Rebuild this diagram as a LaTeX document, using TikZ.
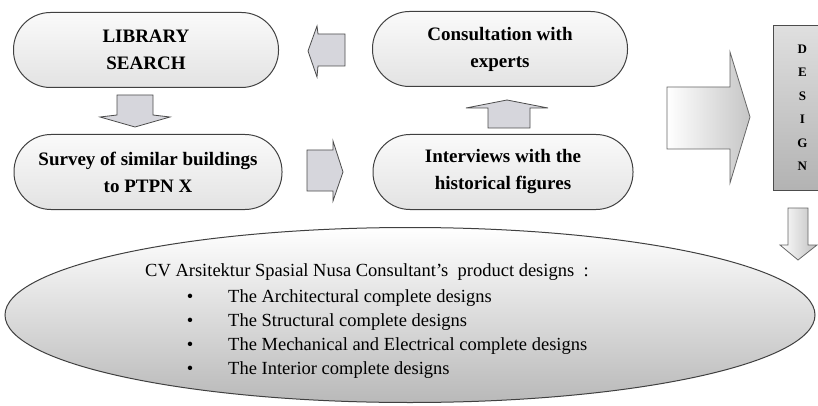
\documentclass[tikz,border=0pt]{standalone}
\usepackage{fontspec}
\setmainfont{Liberation Serif}
\usetikzlibrary{shapes.geometric}
\begin{document}
\begin{tikzpicture}[x=1pt,y=-1pt,
  stadium/.style={draw=black!75,line width=1pt,rounded corners=37pt,minimum width=#1,minimum height=75pt,
    top color=gray!4,bottom color=gray!22,align=center,font=\fontsize{19}{27}\selectfont\bfseries,inner sep=0pt},
  blk/.style={draw=black!70,line width=0.8pt,fill=blue!8!gray!30},
  etext/.style={font=\fontsize{18.5}{24}\selectfont,inner sep=0pt},
]
\useasboundingbox (0,0) rectangle (818,406);
% boxes
\node[stadium=265pt] (lib) at (146,50) {LIBRARY\\SEARCH};
\node[stadium=255pt] (con) at (500,49) {Consultation with\\experts};
\node[stadium=268pt] (sur) at (148,172) {Survey of similar buildings\\to PTPN X};
\node[stadium=260pt] (int) at (503,172) {Interviews with the\\historical figures};
% design column
\node[draw=black!70,line width=0.8pt,top color=gray!25,bottom color=gray!60,minimum width=58pt,minimum height=165pt,anchor=north west,inner sep=0pt,
  align=center,font=\fontsize{13}{23.5}\selectfont\bfseries] (des) at (773,25) {D\\E\\S\\I\\G\\N};
% ellipse
\node[ellipse,draw=black!75,line width=1pt,top color=white,bottom color=gray!55,minimum width=810pt,minimum height=175pt,inner sep=0pt] (ell) at (410,315) {};
\node[anchor=west,etext] (cv) at (145,272) {CV Arsitektur Spasial Nusa Consultant’s\ \ product designs\ \ :};
\foreach \t [count=\i] in {The Architectural complete designs,The Structural complete designs,The Mechanical and Electrical complete designs,The Interior complete designs}{
  \node[etext] (b\i) at (190,274+\i*24) {\textbullet};
  \node[anchor=west,etext] (t\i) at (228,274+\i*24) {\t};
}
% small arrows
% down arrow lib -> sur
\draw[blk] (117,95) -- (153,95) -- (153,115) -- (170,117) -- (135,127) -- (100,117) -- (117,115) -- cycle;
% left arrow con -> lib
\draw[blk] (345,34) -- (345,66) -- (318,66) -- (317,77) -- (308,51) -- (317,26) -- (318,34) -- cycle;
% right arrow sur -> int
\draw[blk] (307,150) -- (333,150) -- (333,141) -- (343,172) -- (333,201) -- (333,191) -- (307,191) -- cycle;
% up arrow int -> con
\draw[blk] (488,128) -- (488,108) -- (466,108) -- (507,100) -- (548,108) -- (530,108) -- (530,128) -- cycle;
% big right arrow
\draw[draw=black!60,line width=0.8pt,left color=white,right color=gray!45] (667,87) -- (730,87) -- (730,52) -- (750,117) -- (730,183) -- (730,149) -- (667,149) -- cycle;
% down arrow below design
\draw[draw=black!60,line width=0.8pt,left color=white,right color=gray!50] (788,208) -- (808,208) -- (808,245) -- (817,245) -- (798,260) -- (780,245) -- (788,245) -- cycle;
\end{tikzpicture}
\end{document}
